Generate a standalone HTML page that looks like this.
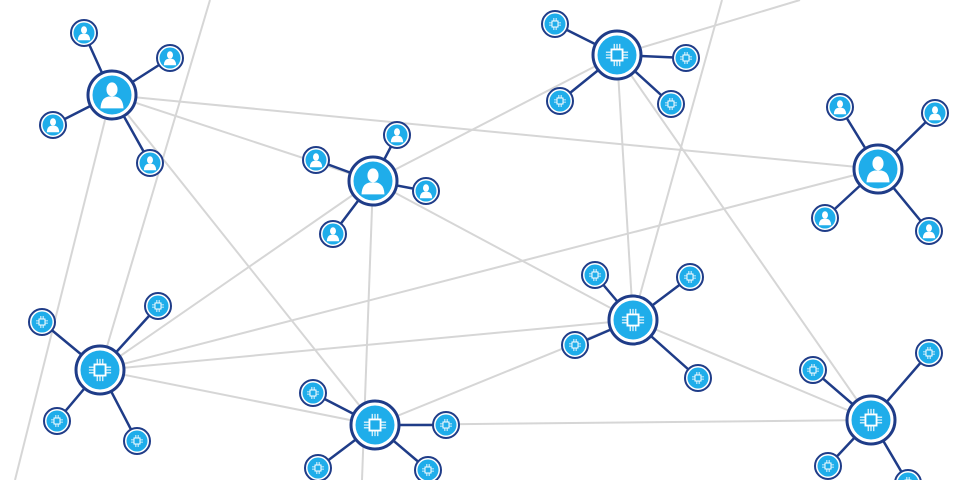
<!DOCTYPE html>
<html><head><meta charset="utf-8"><style>html,body{margin:0;padding:0;background:#fff}svg{display:block}</style></head><body>
<svg width="960" height="480" viewBox="0 0 960 480" xmlns="http://www.w3.org/2000/svg">
<defs>
<g id="pic"><ellipse cx="0" cy="-0.3" rx="0.3" ry="0.38" fill="#fff"/><path d="M-0.62,0.72 Q-0.6,0.15 -0.18,0.08 L0.18,0.08 Q0.6,0.15 0.62,0.72 Z" fill="#fff"/></g>
<g id="cic" stroke="#fff" fill="none" stroke-width="0.06"><rect x="-0.3" y="-0.3" width="0.6" height="0.6" stroke-width="0.1"/><path d="M-0.15,-0.35V-0.6M0,-0.35V-0.6M0.15,-0.35V-0.6M-0.15,0.35V0.6M0,0.35V0.6M0.15,0.35V0.6M-0.35,-0.15H-0.6M-0.35,0H-0.6M-0.35,0.15H-0.6M0.35,-0.15H0.6M0.35,0H0.6M0.35,0.15H0.6"/></g>
<g id="pB"><circle r="24" fill="#fff" stroke="#1f3c88" stroke-width="3"/><circle r="19.5" fill="#1fadea"/><use href="#pic" transform="scale(18.5)"/></g>
<g id="pS"><circle r="13" fill="#fff" stroke="#1f3c88" stroke-width="2"/><circle r="10.5" fill="#1fadea"/><use href="#pic" transform="scale(10)"/></g>
<g id="cB"><circle r="24" fill="#fff" stroke="#1f3c88" stroke-width="3"/><circle r="19.5" fill="#1fadea"/><use href="#cic" transform="scale(18.5)"/></g>
<g id="cS"><circle r="13" fill="#fff" stroke="#1f3c88" stroke-width="2"/><circle r="10.5" fill="#1fadea"/><use href="#cic" transform="scale(10)"/></g>
</defs>
<g stroke="#d6d6d6" stroke-width="2" fill="none">
<line x1="210" y1="0" x2="100" y2="370"/>
<line x1="105" y1="120" x2="15" y2="480"/>
<line x1="112" y1="95" x2="373" y2="181"/>
<line x1="112" y1="95" x2="878" y2="169"/>
<line x1="112" y1="95" x2="375" y2="425"/>
<line x1="373" y1="181" x2="617" y2="55"/>
<line x1="373" y1="181" x2="633" y2="320"/>
<line x1="373" y1="181" x2="100" y2="370"/>
<line x1="373" y1="181" x2="362" y2="480"/>
<line x1="617" y1="55" x2="633" y2="320"/>
<line x1="617" y1="55" x2="871" y2="420"/>
<line x1="722" y1="0" x2="633" y2="320"/>
<line x1="800" y1="0" x2="617" y2="55"/>
<line x1="878" y1="169" x2="100" y2="370"/>
<line x1="633" y1="320" x2="100" y2="370"/>
<line x1="633" y1="320" x2="375" y2="425"/>
<line x1="633" y1="320" x2="871" y2="420"/>
<line x1="375" y1="425" x2="871" y2="420"/>
<line x1="100" y1="370" x2="375" y2="425"/>
</g>
<g stroke="#1f3c88" stroke-width="2.5">
<path d="M112,95L84,33M112,95L170,58M112,95L53,125M112,95L150,163"/>
<path d="M373,181L316,160M373,181L397,135M373,181L426,191M373,181L333,234"/>
<path d="M878,169L840,107M878,169L935,113M878,169L825,218M878,169L929,231"/>
<path d="M617,55L555,24M617,55L686,58M617,55L560,101M617,55L671,104"/>
<path d="M633,320L595,275M633,320L690,277M633,320L575,345M633,320L698,378"/>
<path d="M100,370L42,322M100,370L158,306M100,370L57,421M100,370L137,441"/>
<path d="M375,425L313,393M375,425L446,425M375,425L318,468M375,425L428,470"/>
<path d="M871,420L813,370M871,420L929,353M871,420L828,466M871,420L908,483"/>
</g>
<use href="#pB" x="112" y="95"/>
<use href="#pS" x="84" y="33"/><use href="#pS" x="170" y="58"/><use href="#pS" x="53" y="125"/><use href="#pS" x="150" y="163"/>
<use href="#pB" x="373" y="181"/>
<use href="#pS" x="316" y="160"/><use href="#pS" x="397" y="135"/><use href="#pS" x="426" y="191"/><use href="#pS" x="333" y="234"/>
<use href="#pB" x="878" y="169"/>
<use href="#pS" x="840" y="107"/><use href="#pS" x="935" y="113"/><use href="#pS" x="825" y="218"/><use href="#pS" x="929" y="231"/>
<use href="#cB" x="617" y="55"/>
<use href="#cS" x="555" y="24"/><use href="#cS" x="686" y="58"/><use href="#cS" x="560" y="101"/><use href="#cS" x="671" y="104"/>
<use href="#cB" x="633" y="320"/>
<use href="#cS" x="595" y="275"/><use href="#cS" x="690" y="277"/><use href="#cS" x="575" y="345"/><use href="#cS" x="698" y="378"/>
<use href="#cB" x="100" y="370"/>
<use href="#cS" x="42" y="322"/><use href="#cS" x="158" y="306"/><use href="#cS" x="57" y="421"/><use href="#cS" x="137" y="441"/>
<use href="#cB" x="375" y="425"/>
<use href="#cS" x="313" y="393"/><use href="#cS" x="446" y="425"/><use href="#cS" x="318" y="468"/><use href="#cS" x="428" y="470"/>
<use href="#cB" x="871" y="420"/>
<use href="#cS" x="813" y="370"/><use href="#cS" x="929" y="353"/><use href="#cS" x="828" y="466"/><use href="#cS" x="908" y="483"/>
</svg>
</body></html>
